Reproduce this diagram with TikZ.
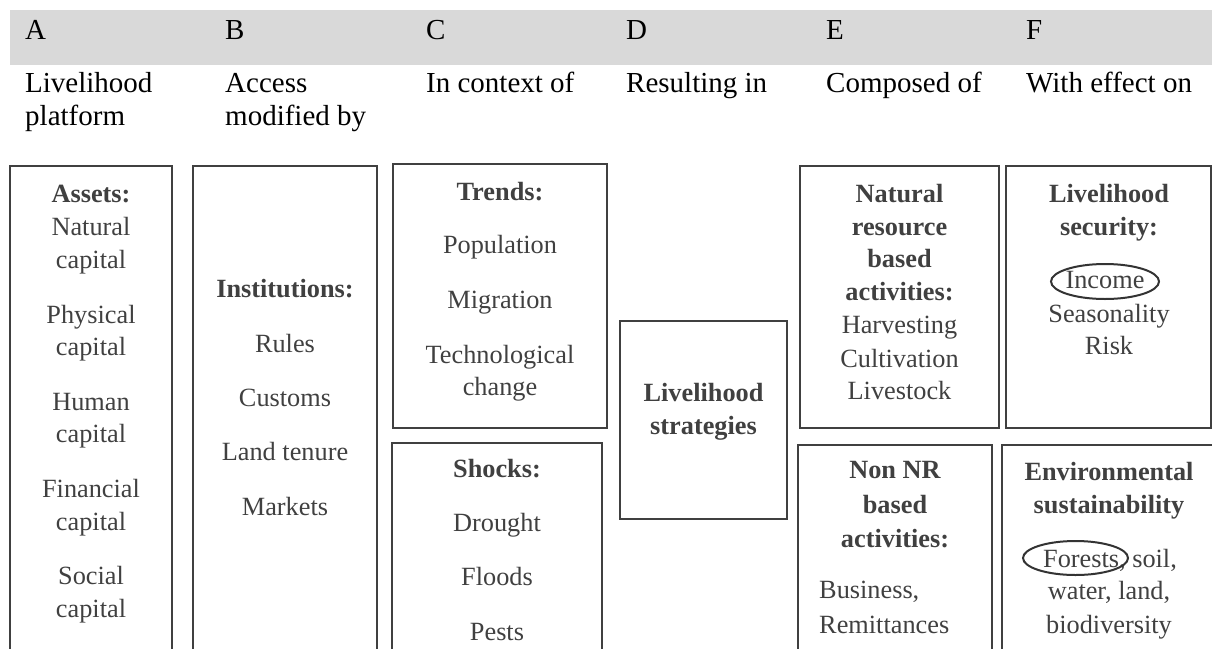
\documentclass[tikz,border=0pt]{standalone}
\usepackage{fontspec}
\setmainfont{Liberation Serif}
\usetikzlibrary{shapes.geometric}
\definecolor{band}{HTML}{D9D9D9}
\definecolor{ink}{HTML}{404040}
\definecolor{ringink}{HTML}{333333}
\tikzset{
  hdr/.style={anchor=base west, inner sep=0pt, font=\fontsize{29}{33}\selectfont, text=black},
  txt/.style={anchor=base, inner sep=0pt, font=\fontsize{26.3}{33}\selectfont, text=ink},
  btxt/.style={anchor=base, inner sep=0pt, font=\fontsize{26.3}{33}\selectfont\bfseries, text=ink},
  ltxt/.style={anchor=base west, inner sep=0pt, font=\fontsize{26.3}{33}\selectfont, text=ink},
  boxframe/.style={draw=ink, line width=2.2pt, inner sep=0pt, outer sep=0pt},
  ring/.style={draw=ringink, line width=2pt, ellipse, inner sep=0pt},
}
\begin{document}
\begin{tikzpicture}[x=1pt,y=-1pt]
\useasboundingbox (0,0) rectangle (1212,648);
\clip (0,0) rectangle (1212,648);
\fill[band] (10,10) rectangle (1212,65);
% header letters
\node[hdr] (hA) at (25,39) {A};
\node[hdr] (hB) at (225,39) {B};
\node[hdr] (hC) at (426,39) {C};
\node[hdr] (hD) at (626,39) {D};
\node[hdr] (hE) at (826,39) {E};
\node[hdr] (hF) at (1026,39) {F};
% header captions
\node[hdr] (cA1) at (25,92) {Livelihood};
\node[hdr] (cA2) at (25,125) {platform};
\node[hdr] (cB1) at (225,92) {Access};
\node[hdr] (cB2) at (225,125) {modified by};
\node[hdr] (cC) at (426,92) {In context of};
\node[hdr] (cD) at (626,92) {Resulting in};
\node[hdr] (cE) at (826,92) {Composed of};
\node[hdr] (cF) at (1026,92) {With effect on};
% boxes
\node[boxframe, minimum width=162pt, minimum height=494pt] (boxA) at (91,413) {};
\node[boxframe, minimum width=184pt, minimum height=494pt] (boxB) at (285,413) {};
\node[boxframe, minimum width=214pt, minimum height=264pt] (boxC1) at (500,296) {};
\node[boxframe, minimum width=210pt, minimum height=217pt] (boxC2) at (497,551.5) {};
\node[boxframe, minimum width=167pt, minimum height=198pt] (boxD) at (703.5,420) {};
\node[boxframe, minimum width=199pt, minimum height=262pt] (boxE1) at (899.5,297) {};
\node[boxframe, minimum width=205pt, minimum height=262pt] (boxF1) at (1108.5,297) {};
\node[boxframe, minimum width=194pt, minimum height=215pt] (boxE2) at (895,552.5) {};
\node[boxframe, minimum width=228pt, minimum height=215pt] (boxF2) at (1116,552.5) {};
% box A
\node[btxt] (a0) at (91,202) {Assets:};
\node[txt] (a1) at (91,235) {Natural};
\node[txt] (a2) at (91,268) {capital};
\node[txt] (a3) at (91,323) {Physical};
\node[txt] (a4) at (91,355) {capital};
\node[txt] (a5) at (91,410) {Human};
\node[txt] (a6) at (91,442) {capital};
\node[txt] (a7) at (91,497) {Financial};
\node[txt] (a8) at (91,530) {capital};
\node[txt] (a9) at (91,584) {Social};
\node[txt] (a10) at (91,617) {capital};
% box B
\node[btxt] (b0) at (285,297) {Institutions:};
\node[txt] (b1) at (285,352) {Rules};
\node[txt] (b2) at (285,406) {Customs};
\node[txt] (b3) at (285,460) {Land tenure};
\node[txt] (b4) at (285,515) {Markets};
% box C1
\node[btxt] (c0) at (500,200) {Trends:};
\node[txt] (c1) at (500,253) {Population};
\node[txt] (c2) at (500,308) {Migration};
\node[txt] (c3) at (500,363) {Technological};
\node[txt] (c4) at (500,395) {change};
% box C2
\node[btxt] (s0) at (497,477) {Shocks:};
\node[txt] (s1) at (497,531) {Drought};
\node[txt] (s2) at (497,585) {Floods};
\node[txt] (s3) at (497,640) {Pests};
% box D
\node[btxt] (d0) at (703.5,401) {Livelihood};
\node[btxt] (d1) at (703.5,434) {strategies};
% box E1
\node[btxt] (e0) at (899.5,202) {Natural};
\node[btxt] (e1) at (899.5,235) {resource};
\node[btxt] (e2) at (899.5,267) {based};
\node[btxt] (e3) at (899.5,300) {activities:};
\node[txt] (e4) at (899.5,333) {Harvesting};
\node[txt] (e5) at (899.5,367) {Cultivation};
\node[txt] (e6) at (899.5,399) {Livestock};
% box F1
\node[btxt] (f0) at (1109,202) {Livelihood};
\node[btxt] (f1) at (1109,235) {security:};
\node[txt] (f2) at (1105,288) {Income};
\node[txt] (f3) at (1109,322) {Seasonality};
\node[txt] (f4) at (1109,354) {Risk};
\node[ring, minimum width=108pt, minimum height=35pt] (incomeRing) at (1105,281.5) {};
% box E2
\node[btxt] (n0) at (895,478) {Non NR};
\node[btxt] (n1) at (895,513) {based};
\node[btxt] (n2) at (895,547) {activities:};
\node[ltxt] (n3) at (819,598) {Business,};
\node[ltxt] (n4) at (819,633) {Remittances};
% box F2
\node[btxt] (g0) at (1109,480) {Environmental};
\node[btxt] (g1) at (1109,513) {sustainability};
\node[txt] (g2) at (1110,567) {Forests, soil,};
\node[txt] (g3) at (1109,599) {water, land,};
\node[txt] (g4) at (1109,633) {biodiversity};
\node[ring, minimum width=105pt, minimum height=34pt] (forestRing) at (1075.5,558) {};
\end{tikzpicture}
\end{document}
